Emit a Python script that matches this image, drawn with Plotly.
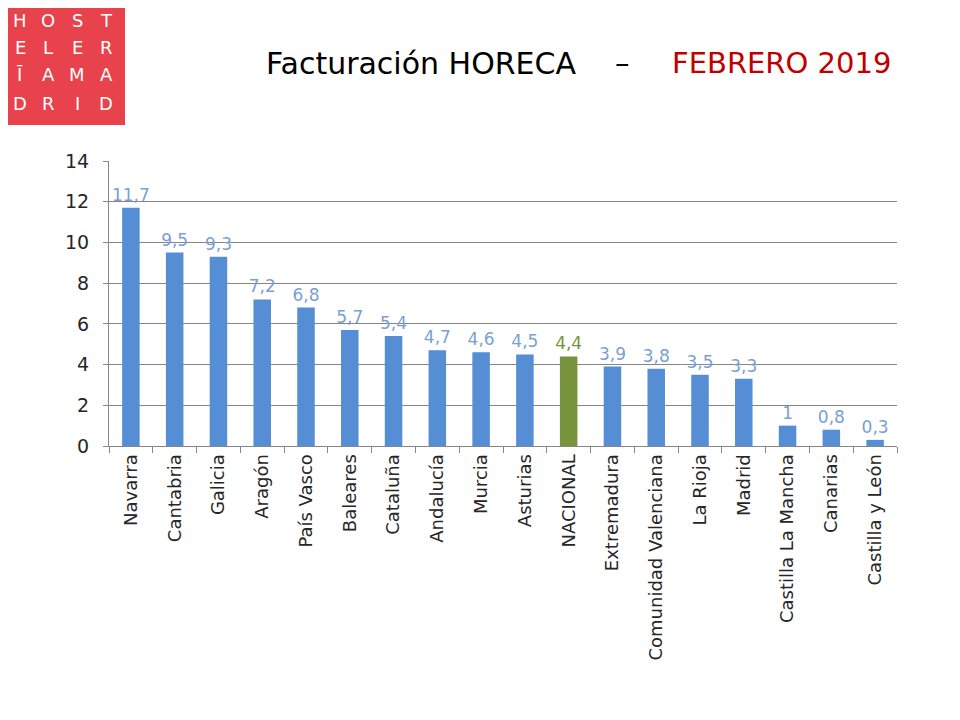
import plotly.graph_objects as go

# Datos de facturación HORECA, febrero 2019 (% variación)
regiones = ["Navarra", "Cantabria", "Galicia", "Aragón", "País Vasco", "Baleares",
            "Cataluña", "Andalucía", "Murcia", "Asturias", "NACIONAL", "Extremadura",
            "Comunidad Valenciana", "La Rioja", "Madrid", "Castilla La Mancha",
            "Canarias", "Castilla y León"]
valores = [11.7, 9.5, 9.3, 7.2, 6.8, 5.7, 5.4, 4.7, 4.6, 4.5, 4.4, 3.9, 3.8, 3.5, 3.3, 1, 0.8, 0.3]
y_ticks = [0, 2, 4, 6, 8, 10, 12, 14]

AZUL = "#558ED5"
AZUL_TXT = "#7A9FD3"
VERDE = "#77933C"
FONT = "DejaVu Sans"

colores = [VERDE if r == "NACIONAL" else AZUL for r in regiones]
colores_txt = [VERDE if r == "NACIONAL" else AZUL_TXT for r in regiones]
etiquetas = [("%g" % v).replace(".", ",") for v in valores]

fig = go.Figure()
fig.add_trace(go.Bar(x=regiones, y=valores, marker=dict(color=colores, line=dict(width=0)),
                     text=etiquetas, textposition="outside", cliponaxis=False,
                     textfont=dict(family=FONT, size=17, color=colores_txt),
                     hoverinfo="x+y"))

# the page adds an 8px body margin, so work in page pixels and shift back
OFF = 8
W, H = 960, 720
x_left, x_right, y_top, y_bot = 109, 897, 161, 446
L, R = x_left - OFF, W - (x_right - OFF)
T, B = y_top - OFF, H - (y_bot - OFF)
pw, ph = x_right - x_left, y_bot - y_top


def px(x):
    return (x - x_left) / pw


def py(y):
    return (y_bot - y) / ph


fig.update_layout(
    width=W, height=H, margin=dict(l=L, r=R, t=T, b=B),
    paper_bgcolor="white", plot_bgcolor="white",
    showlegend=False, bargap=0.6,
    uniformtext=dict(minsize=17, mode="show"),
    font=dict(family=FONT, color="#262626"),
    xaxis=dict(type="category", tickangle=-90, tickfont=dict(size=18, color="#262626"),
               showline=True, linecolor="#868686", linewidth=1,
               ticks="outside", tickson="boundaries", ticklen=6, tickcolor="#868686",
               showgrid=False),
    yaxis=dict(range=[0, 14], tickvals=y_ticks, tickfont=dict(size=19, color="#262626"),
               showline=True, linecolor="#868686", linewidth=1,
               ticks="outside", ticklen=5, tickcolor="#868686", ticklabelstandoff=10,
               showgrid=True, gridcolor="#868686", gridwidth=1, zeroline=False),
)

# logo
fig.add_shape(type="rect", xref="paper", yref="paper",
              x0=px(0), x1=px(125), y0=py(125), y1=py(0),
              fillcolor="#E8424C", line=dict(width=0), layer="above")
logo = ["HOST", "ELER", "ĪAMA", "DRID"]
cols = [20, 48, 77, 106]
rows = [20, 47, 75, 103]
for fila, yy in zip(logo, rows):
    for letra, xx in zip(fila, cols):
        fig.add_annotation(text=letra, xref="paper", yref="paper", x=px(xx), y=py(yy),
                           showarrow=False, xanchor="center", yanchor="middle",
                           font=dict(family=FONT, size=18, color="white"))

# titulo
fig.add_annotation(text="Facturación HORECA", xref="paper", yref="paper",
                   x=px(579), y=py(63), xanchor="right", yanchor="middle", showarrow=False,
                   font=dict(family=FONT, size=30, color="black"))
fig.add_annotation(text="–", xref="paper", yref="paper",
                   x=px(622), y=py(63), xanchor="center", yanchor="middle", showarrow=False,
                   font=dict(family=FONT, size=29, color="black"))
fig.add_annotation(text="FEBRERO 2019", xref="paper", yref="paper",
                   x=px(893), y=py(63), xanchor="right", yanchor="middle", showarrow=False,
                   font=dict(family=FONT, size=29, color="#C00000"))

fig.write_html("out.html")
